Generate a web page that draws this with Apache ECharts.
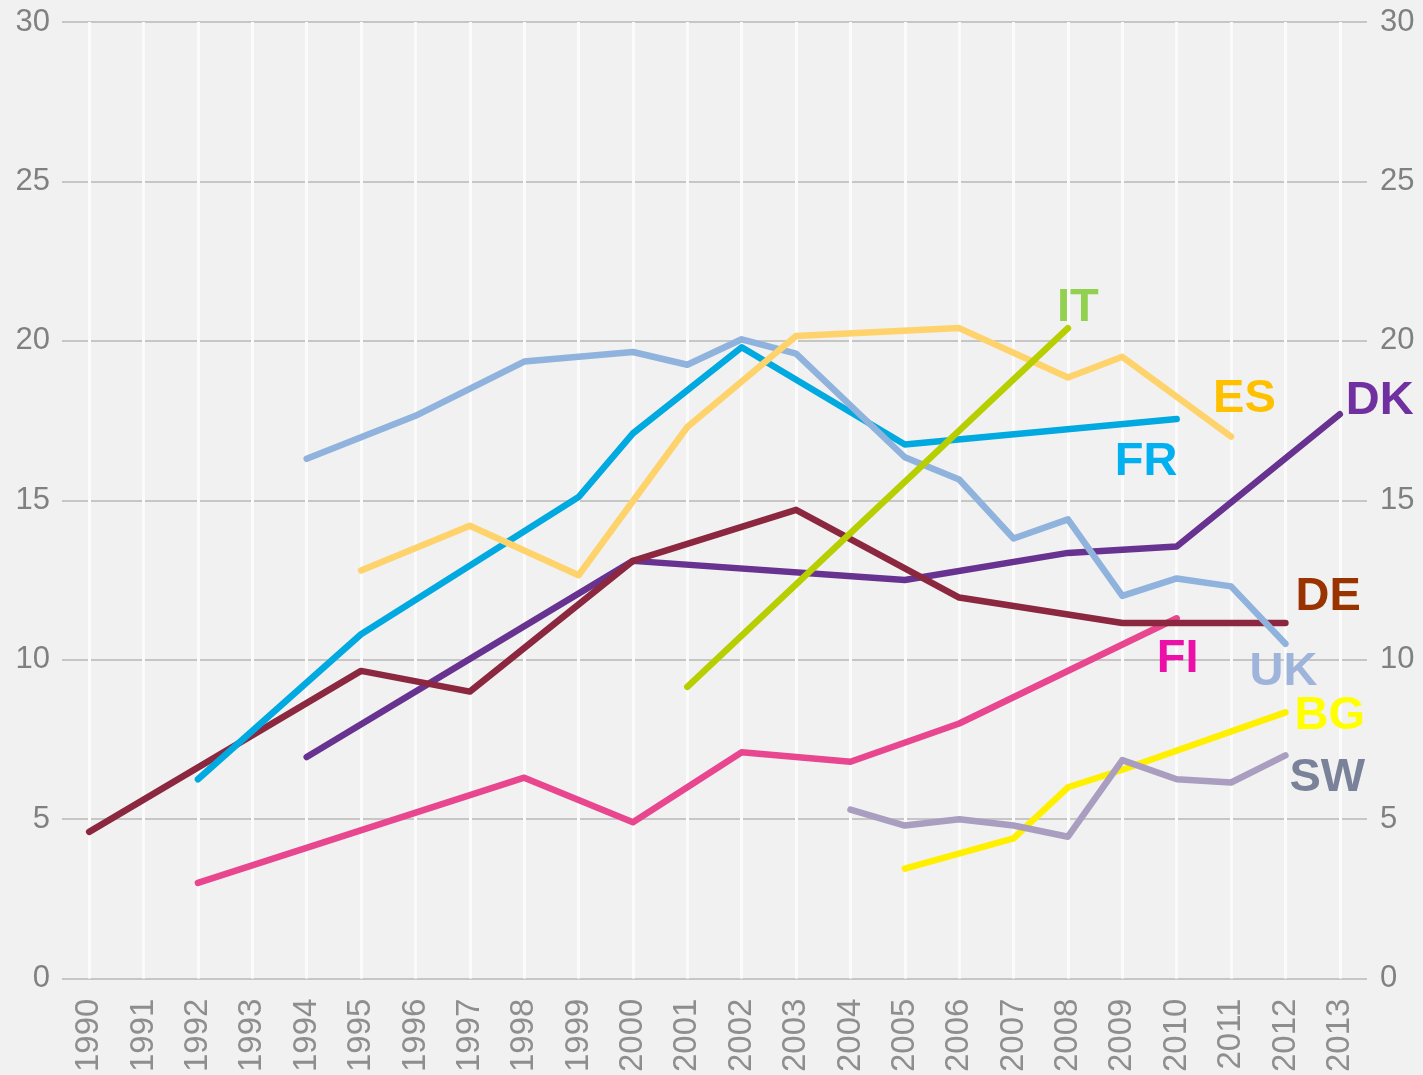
<!DOCTYPE html>
<html>
<head>
<meta charset="utf-8">
<script src="https://cdn.jsdelivr.net/npm/echarts@6/dist/echarts.min.js"></script>
<style>
  html, body { margin: 0; padding: 0; background: #f1f1f1; }
  #chart { width: 1423px; height: 1075px; }
</style>
</head>
<body>
<div id="chart"></div>
<script>
    // years on the x axis
    var years = [];
    for (var y = 1990; y <= 2013; y++) years.push(String(y));

    var yTicks = [0, 5, 10, 15, 20, 25, 30];

    //           1990 .................................................................................................................. 2013
    var deData = [4.6, null, null, null, null, 9.65, null, 9.0, null, null, 13.1, null, null, 14.7, null, null, 11.95, null, null, 11.15, null, null, 11.15, null];
    var dkData = [null, null, null, null, 6.95, null, null, null, null, null, 13.1, null, null, null, null, 12.5, null, null, 13.35, null, 13.55, null, null, 17.7];
    var frData = [null, null, 6.25, null, null, 10.8, null, null, null, 15.1, 17.1, null, 19.8, null, null, 16.75, null, null, null, null, 17.55, null, null, null];
    var ukData = [null, null, null, null, 16.3, null, 17.65, null, 19.35, 19.5, 19.65, 19.25, 20.05, 19.6, null, 16.35, 15.65, 13.8, 14.4, 12.0, 12.55, 12.3, 10.5, null];
    var esData = [null, null, null, null, null, 12.8, null, 14.2, null, 12.65, null, 17.3, null, 20.15, null, null, 20.4, null, 18.85, 19.5, null, 17.0, null, null];
    var itData = [null, null, null, null, null, null, null, null, null, null, null, 9.15, null, null, null, null, null, null, 20.4, null, null, null, null, null];
    var fiData = [null, null, 3.0, null, null, null, null, null, 6.3, null, 4.9, null, 7.1, null, 6.8, null, 8.0, null, null, null, 11.3, null, null, null];
    var bgData = [null, null, null, null, null, null, null, null, null, null, null, null, null, null, null, 3.45, null, 4.4, 6.0, 6.55, null, null, 8.35, null];
    var swData = [null, null, null, null, null, null, null, null, null, null, null, null, null, null, 5.3, 4.8, 5.0, 4.8, 4.45, 6.85, 6.25, 6.15, 7.0, null];

    var font = "'Liberation Sans', Arial, sans-serif";

    function makeSeries(name, data, lineColor, labelColor, offset) {
        return {
            name: name,
            type: 'line',
            data: data,
            connectNulls: true,
            symbol: 'none',
            yAxisIndex: 0,
            lineStyle: { color: lineColor, width: 6.5, cap: 'round', join: 'round' },
            itemStyle: { color: lineColor },
            endLabel: {
                show: true,
                formatter: function (p) { return p.seriesName; },
                color: labelColor,
                fontSize: 47,
                fontWeight: 'bold',
                fontFamily: font,
                distance: 0,
                offset: offset
            },
            emphasis: { disabled: true }
        };
    }

    var dom = document.getElementById("chart");
    var myChart = echarts.init(dom);

    var option = {
        backgroundColor: '#f1f1f1',
        animation: false,
        grid: { left: 62, right: 56, top: 22, bottom: 96, containLabel: false },
        xAxis: {
            type: 'category',
            data: years,
            boundaryGap: true,
            axisLine: { show: false },
            axisTick: { show: false, alignWithLabel: true },
            splitLine: { show: true, alignWithLabel: true, lineStyle: { color: '#fbfbfb', width: 3 } },
            axisLabel: { rotate: 90, interval: 0, color: '#8e8e8e', fontSize: 33, fontFamily: font, margin: 20 }
        },
        yAxis: [{
            type: 'value',
            min: 0, max: 30, interval: 5,
            position: 'left',
            axisLine: { show: false },
            axisTick: { show: false },
            splitLine: { show: true, lineStyle: { color: '#c6c6c6', width: 2 } },
            axisLabel: { color: '#808080', fontSize: 31, fontFamily: font, margin: 12,
                formatter: function (v) { return yTicks.indexOf(v) >= 0 ? String(v) : ''; } }
        }, {
            type: 'value',
            min: 0, max: 30, interval: 5,
            position: 'right',
            axisLine: { show: false },
            axisTick: { show: false },
            splitLine: { show: false },
            axisLabel: { color: '#808080', fontSize: 31, fontFamily: font, margin: 13,
                formatter: function (v) { return yTicks.indexOf(v) >= 0 ? String(v) : ''; } }
        }],
        series: [
            makeSeries('FI', fiData, '#e8468f', '#ec0fa8', [-20, 41]),
            makeSeries('BG', bgData, '#fff000', '#ffff00', [9, 4]),
            makeSeries('SW', swData, '#a99ebf', '#7a8299', [4, 23]),
            makeSeries('DK', dkData, '#683290', '#7030a0', [6, -13]),
            makeSeries('DE', deData, '#8b2840', '#993300', [10, -26]),
            makeSeries('FR', frData, '#00a9e0', '#00b0f0', [-62, 43]),
            makeSeries('UK', ukData, '#8fb3dc', '#9fb4da', [-36, 28]),
            makeSeries('ES', esData, '#ffd36b', '#ffc000', [-18, -37]),
            makeSeries('IT', itData, '#b7cf00', '#92d050', [-11, -20])
        ]
    };

    myChart.setOption(option, true);
</script>
</body>
</html>
